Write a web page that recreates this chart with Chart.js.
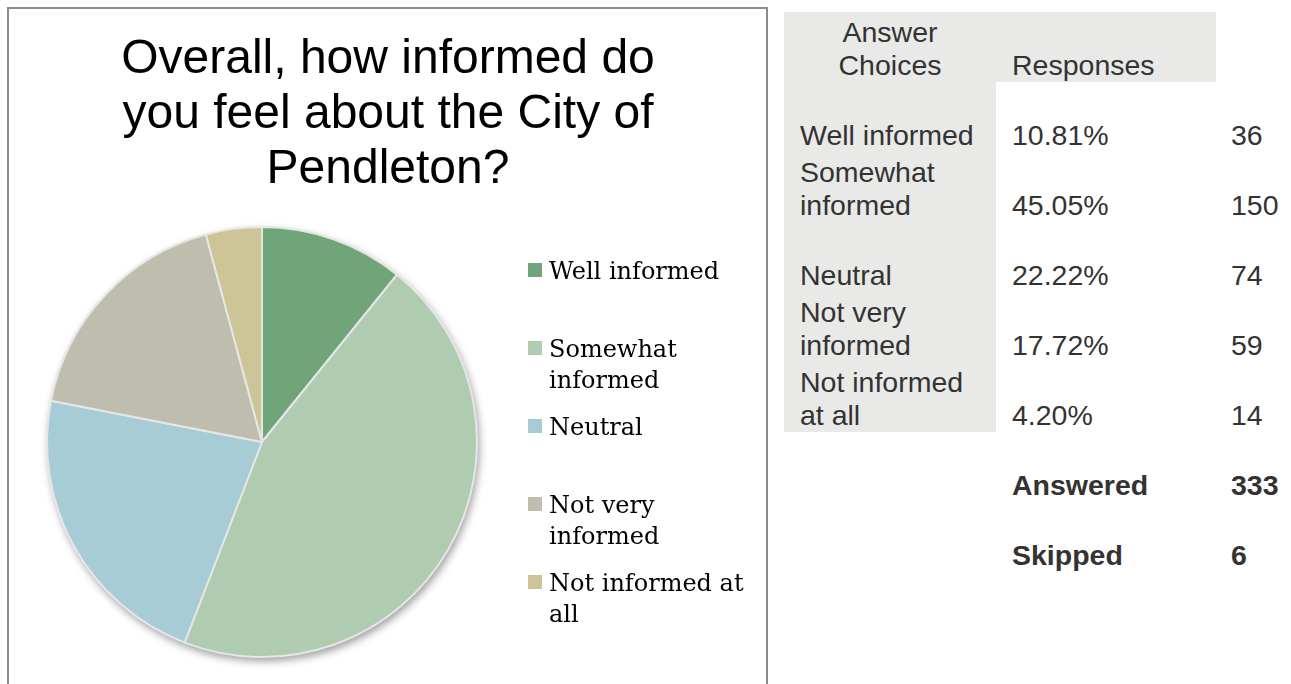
<!DOCTYPE html>
<html lang="en">
<head>
    <meta charset="utf-8">
    <title>City of Pendleton - Informed</title>
    <style>
      * {
        margin: 0;
        padding: 0;
      }
      body {
        width: 1291px;
        height: 684px;
        overflow: hidden;
        background: white;
        position: relative;
        font-family: "Liberation Sans", Arial, sans-serif;
      }
      .chartBox {
        position: absolute;
        left: 7px;
        top: 7px;
        width: 757px;
        height: 690px;
        border: solid 2px #8c8c8c;
      }
      .canvasWrap {
        position: relative;
        width: 757px;
        height: 675px;
      }
      table {
        position: absolute;
        left: 784px;
        top: 12px;
        width: 500px;
        table-layout: fixed;
        border-collapse: collapse;
        color: #333;
        font-size: 28.5px;
        line-height: 33px;
      }
      td {
        height: 70px;
        vertical-align: bottom;
        padding: 0 16px;
        text-align: left;
        overflow: visible;
        white-space: normal;
      }
      td.c1 { width: 180px; }
      td.c2 { width: 188px; }
      td.c3 { width: 54px; padding: 0 0 0 15px; white-space: nowrap; }
      .grey { background: #e9e9e7; }
      .head { text-align: center; }
      .bold { font-weight: bold; }
    </style>
</head>
<body>
    <div class="chartBox">
      <div class="canvasWrap">
        <canvas id="pieChart"></canvas>
      </div>
    </div>
    <table id="respTable"></table>

    <script src="https://cdn.jsdelivr.net/npm/chart.js/dist/chart.umd.min.js"></script>
    <script>
        // survey data
        const titleLines = ['Overall, how informed do', 'you feel about the City of', 'Pendleton?'];
        const categories = ['Well informed', 'Somewhat informed', 'Neutral', 'Not very informed', 'Not informed at all'];
        const percents = ['10.81%', '45.05%', '22.22%', '17.72%', '4.20%'];
        const counts = [36, 150, 74, 59, 14];
        const answered = 333;
        const skipped = 6;
        const colors = ['#70a479', '#afcbb0', '#a8ccd5', '#bfbdae', '#cdc597'];

        // build the table on the right
        const table = document.getElementById('respTable');
        let html = '<tr><td class="c1 grey head">Answer Choices</td><td class="c2 grey">Responses</td><td class="c3"></td></tr>';
        categories.forEach((cat, i) => {
            html += '<tr><td class="c1 grey">' + cat + '</td><td class="c2">' + percents[i] + '</td><td class="c3">' + counts[i] + '</td></tr>';
        });
        html += '<tr><td class="c1"></td><td class="c2 bold">Answered</td><td class="c3 bold">' + answered + '</td></tr>';
        html += '<tr><td class="c1"></td><td class="c2 bold">Skipped</td><td class="c3 bold">' + skipped + '</td></tr>';
        table.innerHTML = html;

        // shadow under the pie
        const pieShadow = {
            id: 'pieShadow',
            beforeDatasetsDraw(chart) {
                const arc = chart.getDatasetMeta(0).data[0];
                if (!arc) return;
                const ctx = chart.ctx;
                ctx.save();
                ctx.shadowColor = 'rgba(0,0,0,0.4)';
                ctx.shadowBlur = 8;
                ctx.shadowOffsetX = 2;
                ctx.shadowOffsetY = 4;
                ctx.fillStyle = '#e6e6e6';
                ctx.beginPath();
                ctx.arc(arc.x, arc.y, arc.outerRadius, 0, Math.PI * 2);
                ctx.fill();
                ctx.restore();
            }
        };

        // title centred over the whole panel
        const panelTitle = {
            id: 'panelTitle',
            afterDraw(chart) {
                const ctx = chart.ctx;
                ctx.save();
                ctx.font = '48px "Liberation Sans", Arial, sans-serif';
                ctx.fillStyle = '#000';
                ctx.textAlign = 'center';
                ctx.textBaseline = 'alphabetic';
                titleLines.forEach((ln, i) => ctx.fillText(ln, 379, 64 + i * 55));
                ctx.restore();
            }
        };

        // legend on the right of the pie, wrapped text
        const sideLegend = {
            id: 'sideLegend',
            afterDraw(chart) {
                const ctx = chart.ctx;
                const x0 = 519, y0 = 270, slot = 78, lineH = 31, maxW = 200;
                ctx.save();
                ctx.font = '24px "DejaVu Serif", serif';
                ctx.textBaseline = 'alphabetic';
                chart.data.labels.forEach((label, i) => {
                    const words = label.split(' ');
                    const lines = [];
                    let cur = '';
                    words.forEach(w => {
                        const test = cur ? cur + ' ' + w : w;
                        if (ctx.measureText(test).width > maxW && cur) {
                            lines.push(cur);
                            cur = w;
                        } else {
                            cur = test;
                        }
                    });
                    lines.push(cur);
                    const yTop = y0 + i * slot;
                    ctx.fillStyle = chart.data.datasets[0].backgroundColor[i];
                    ctx.fillRect(x0, yTop - 16, 14, 14);
                    ctx.fillStyle = '#000';
                    lines.forEach((ln, j) => {
                        ctx.fillText(ln, x0 + 21, yTop + j * lineH);
                    });
                });
                ctx.restore();
            }
        };

        const ctx = document.getElementById('pieChart').getContext('2d');
        new Chart(ctx, {
            type: 'pie',
            data: {
                labels: categories,
                datasets: [{
                    data: counts,
                    backgroundColor: colors,
                    borderColor: '#e6e6e6',
                    borderWidth: 2
                }]
            },
            options: {
                responsive: true,
                maintainAspectRatio: false,
                animation: false,
                layout: {
                    padding: { left: 37, top: 217, right: 288, bottom: 26 }
                },
                plugins: {
                    legend: { display: false },
                    tooltip: { enabled: false },
                    title: { display: false }
                }
            },
            plugins: [pieShadow, panelTitle, sideLegend]
        });
    </script>
</body>
</html>
